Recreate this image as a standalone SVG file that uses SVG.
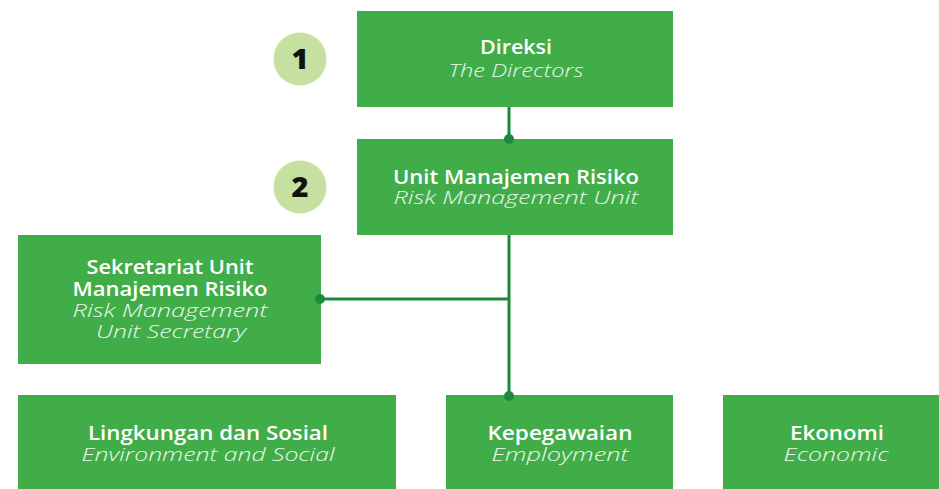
<svg xmlns="http://www.w3.org/2000/svg" width="939" height="489" viewBox="0 0 939 489">
<style>
.box{fill:#41ad49}
.t{font-family:"Open Sans","Noto Sans",sans-serif;font-size:19px;text-anchor:middle;fill:#fff}
.b{font-weight:600}
.i{font-style:italic;font-weight:300;fill:#eef7ee}
.num{font-family:"Open Sans","Noto Sans",sans-serif;font-size:29px;font-weight:800;text-anchor:middle;fill:#111}
.badge{fill:#c5e09f}
.ln{stroke:#1c8a3c;stroke-width:3;fill:none}
.dot{fill:#1c8a3c}
</style>
<g id="badge1"><circle class="badge" cx="300" cy="59" r="26.5"/><text class="num" x="300" y="69">1</text></g>
<g id="badge2"><circle class="badge" cx="300" cy="187" r="26.5"/><text class="num" x="300" y="197">2</text></g>
<g id="direksi"><rect class="box" x="357" y="11" width="316" height="96"/>
<text class="t b" x="516" y="54" textLength="72" lengthAdjust="spacingAndGlyphs">Direksi</text><text class="t i" x="516" y="77" textLength="135" lengthAdjust="spacingAndGlyphs">The Directors</text></g>
<g id="unit"><rect class="box" x="357" y="139" width="316" height="96"/>
<text class="t b" x="516" y="184" textLength="246" lengthAdjust="spacingAndGlyphs">Unit Manajemen Risiko</text><text class="t i" x="516" y="204" textLength="245" lengthAdjust="spacingAndGlyphs">Risk Management Unit</text></g>
<g id="sekretariat"><rect class="box" x="18" y="235" width="303" height="129"/>
<text class="t b" x="170" y="274" textLength="167" lengthAdjust="spacingAndGlyphs">Sekretariat Unit</text>
<text class="t b" x="170" y="296" textLength="195" lengthAdjust="spacingAndGlyphs">Manajemen Risiko</text>
<text class="t i" x="170" y="317" textLength="195" lengthAdjust="spacingAndGlyphs">Risk Management</text>
<text class="t i" x="171" y="338" textLength="150" lengthAdjust="spacingAndGlyphs">Unit Secretary</text></g>
<g id="lingkungan"><rect class="box" x="18" y="395" width="378" height="94"/>
<text class="t b" x="208" y="440" textLength="240" lengthAdjust="spacingAndGlyphs">Lingkungan dan Sosial</text><text class="t i" x="208" y="461" textLength="253" lengthAdjust="spacingAndGlyphs">Environment and Social</text></g>
<g id="kepegawaian"><rect class="box" x="446" y="395" width="227" height="94"/>
<text class="t b" x="560" y="440" textLength="145" lengthAdjust="spacingAndGlyphs">Kepegawaian</text><text class="t i" x="560" y="461" textLength="137" lengthAdjust="spacingAndGlyphs">Employment</text></g>
<g id="ekonomi"><rect class="box" x="723" y="395" width="216" height="94"/>
<text class="t b" x="837" y="440" textLength="94" lengthAdjust="spacingAndGlyphs">Ekonomi</text><text class="t i" x="836" y="461" textLength="105" lengthAdjust="spacingAndGlyphs">Economic</text></g>
<g id="connectors">
<path class="ln" d="M509 107V139M509 235V396M320 299H509"/>
<circle class="dot" cx="509" cy="139" r="5"/>
<circle class="dot" cx="509" cy="396" r="5"/>
<circle class="dot" cx="320" cy="299" r="5"/>
</g>
</svg>
